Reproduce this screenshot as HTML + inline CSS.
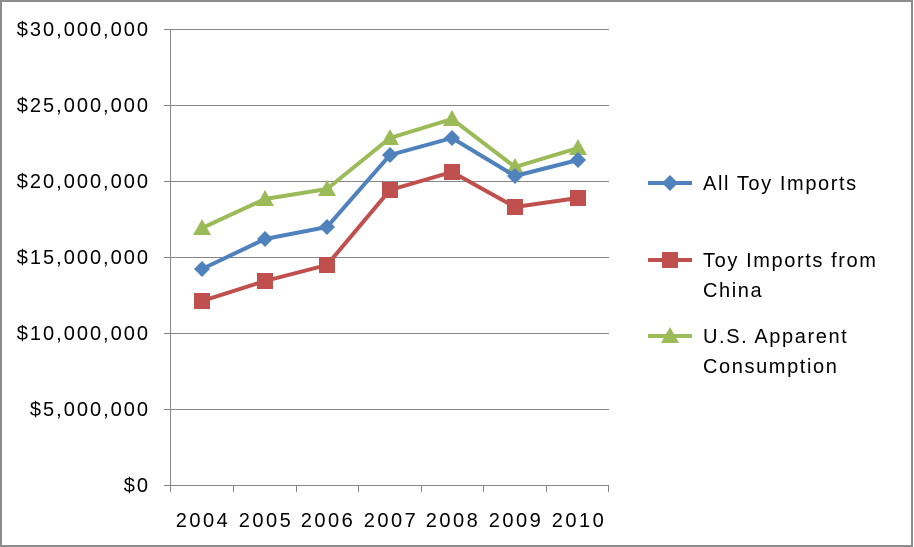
<!DOCTYPE html>
<html><head><style>
body{margin:0;background:#fff;}
svg{display:block;font-family:"Liberation Sans",sans-serif;}
</style></head><body>
<svg width="914" height="547" viewBox="0 0 914 547">
<rect x="0" y="0" width="914" height="547" fill="#fff"/>
<rect x="1" y="1" width="911" height="545" fill="none" stroke="#8c8c8c" stroke-width="2"/>
<g stroke="#868686" stroke-width="1">
<line x1="171" y1="29.5" x2="609" y2="29.5"/>
<line x1="171" y1="105.5" x2="609" y2="105.5"/>
<line x1="171" y1="181.5" x2="609" y2="181.5"/>
<line x1="171" y1="257.5" x2="609" y2="257.5"/>
<line x1="171" y1="333.5" x2="609" y2="333.5"/>
<line x1="171" y1="409.5" x2="609" y2="409.5"/>
<line x1="164" y1="485.5" x2="609" y2="485.5"/>
<line x1="170.5" y1="29" x2="170.5" y2="492"/>
<line x1="164" y1="29.5" x2="171" y2="29.5"/><line x1="164" y1="105.5" x2="171" y2="105.5"/><line x1="164" y1="181.5" x2="171" y2="181.5"/><line x1="164" y1="257.5" x2="171" y2="257.5"/><line x1="164" y1="333.5" x2="171" y2="333.5"/><line x1="164" y1="409.5" x2="171" y2="409.5"/>
<line x1="233.5" y1="485" x2="233.5" y2="492"/><line x1="296.5" y1="485" x2="296.5" y2="492"/><line x1="358.5" y1="485" x2="358.5" y2="492"/><line x1="421.5" y1="485" x2="421.5" y2="492"/><line x1="483.5" y1="485" x2="483.5" y2="492"/><line x1="546.5" y1="485" x2="546.5" y2="492"/><line x1="608.5" y1="485" x2="608.5" y2="492"/>
</g>
<g font-size="20" fill="#000" text-anchor="end" letter-spacing="2">
<text x="150" y="36">$30,000,000</text>
<text x="150" y="112">$25,000,000</text>
<text x="150" y="188">$20,000,000</text>
<text x="150" y="264">$15,000,000</text>
<text x="150" y="340">$10,000,000</text>
<text x="150" y="416">$5,000,000</text>
<text x="150" y="492">$0</text>
</g>
<g font-size="20" fill="#000" text-anchor="middle" letter-spacing="2.5">
<text x="203" y="527">2004</text><text x="266" y="527">2005</text><text x="328" y="527">2006</text><text x="391" y="527">2007</text><text x="453" y="527">2008</text><text x="516" y="527">2009</text><text x="579" y="527">2010</text>
</g>
<!-- green -->
<polyline fill="none" stroke="#9bbb59" stroke-width="4" stroke-linejoin="round" points="202,228 265,199 327,189 390,138 452,119 515,167 578,148"/>
<g fill="#9bbb59">
<polygon points="202,219 211,235 193,235"/><polygon points="265,190 274,206 256,206"/><polygon points="327,180 336,196 318,196"/><polygon points="390,129 399,145 381,145"/><polygon points="452,110 461,126 443,126"/><polygon points="515,158 524,174 506,174"/><polygon points="578,139 587,155 569,155"/>
</g>
<!-- blue -->
<polyline fill="none" stroke="#4f81bd" stroke-width="4" stroke-linejoin="round" points="202,269 265,239 327,227 390,155 452,138 515,176 578,160"/>
<g fill="#4f81bd">
<polygon points="202,261 210,269 202,277 194,269"/><polygon points="265,231 273,239 265,247 257,239"/><polygon points="327,219 335,227 327,235 319,227"/><polygon points="390,147 398,155 390,163 382,155"/><polygon points="452,130 460,138 452,146 444,138"/><polygon points="515,168 523,176 515,184 507,176"/><polygon points="578,152 586,160 578,168 570,160"/>
</g>
<!-- red -->
<polyline fill="none" stroke="#c0504d" stroke-width="4" stroke-linejoin="round" points="202,301 265,281 327,265 390,190 452,172 515,207 578,198"/>
<g fill="#c0504d">
<rect x="194" y="293" width="16" height="16"/><rect x="257" y="273" width="16" height="16"/><rect x="319" y="257" width="16" height="16"/><rect x="382" y="182" width="16" height="16"/><rect x="444" y="164" width="16" height="16"/><rect x="507" y="199" width="16" height="16"/><rect x="570" y="190" width="16" height="16"/>
</g>
<!-- legend -->
<g font-size="20" letter-spacing="1.6">
<line x1="648" y1="183" x2="692" y2="183" stroke="#4f81bd" stroke-width="4"/>
<polygon points="670,175 678,183 670,191 662,183" fill="#4f81bd"/>
<text x="703" y="190">All Toy Imports</text>
<line x1="648" y1="260" x2="692" y2="260" stroke="#c0504d" stroke-width="4"/>
<rect x="662" y="252" width="16" height="16" fill="#c0504d"/>
<text x="703" y="267">Toy Imports from</text>
<text x="703" y="297">China</text>
<line x1="648" y1="336" x2="692" y2="336" stroke="#9bbb59" stroke-width="4"/>
<polygon points="670,327 679,343 661,343" fill="#9bbb59"/>
<text x="703" y="343">U.S. Apparent</text>
<text x="703" y="373">Consumption</text>
</g>
</svg>
</body></html>
